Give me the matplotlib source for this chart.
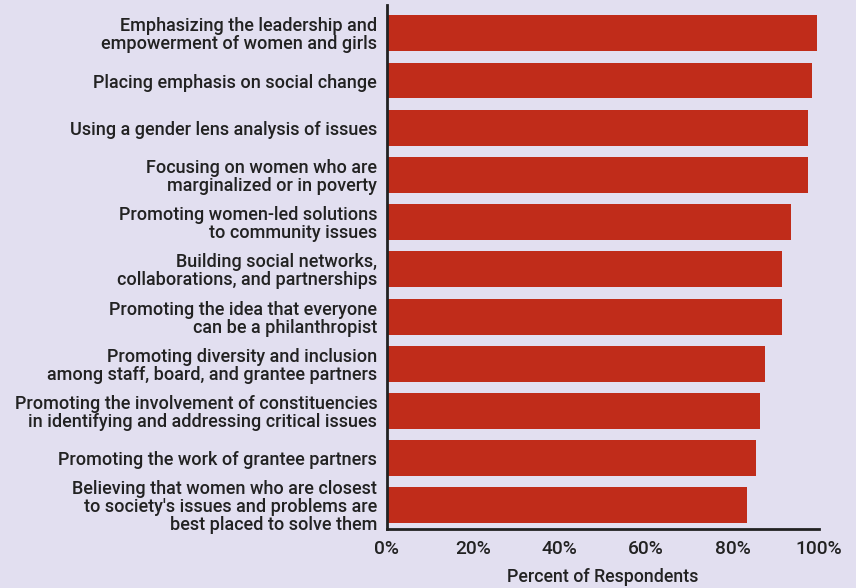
import matplotlib.pyplot as plt
import numpy as np

categories = [
    "Emphasizing the leadership and\nempowerment of women and girls",
    "Placing emphasis on social change",
    "Using a gender lens analysis of issues",
    "Focusing on women who are\nmarginalized or in poverty",
    "Promoting women-led solutions\nto community issues",
    "Building social networks,\ncollaborations, and partnerships",
    "Promoting the idea that everyone\ncan be a philanthropist",
    "Promoting diversity and inclusion\namong staff, board, and grantee partners",
    "Promoting the involvement of constituencies\nin identifying and addressing critical issues",
    "Promoting the work of grantee partners",
    "Believing that women who are closest\nto society's issues and problems are\nbest placed to solve them",
]
values = [99.4, 98.3, 97.3, 97.3, 93.4, 91.3, 91.3, 87.4, 86.2, 85.3, 83.2]
ticks = [0, 20, 40, 60, 80, 100]

bg = "#e2dff0"
bar_color = "#c02c1a"
text_color = "#222222"

plt.rcParams['font.family'] = ['Roboto', 'DejaVu Sans']

fig = plt.figure(figsize=(8.56, 5.88), dpi=100, facecolor=bg)
ax = fig.add_axes([0.452, 0.1003, 0.505, 0.8912])
ax.set_facecolor(bg)

y = np.arange(len(categories))
ax.barh(y, values, height=0.76, color=bar_color)

ax.set_xlim(0, 100)
ax.set_ylim(10.5, -0.6)
ax.set_yticks(y)
ax.set_yticklabels(categories, fontsize=13, fontweight='medium', color=text_color,
                   linespacing=1.0)
ax.set_xticks(ticks)
ax.set_xticklabels([f"{t}%" for t in ticks], fontsize=13.8, fontweight='medium',
                   color=text_color)
ax.tick_params(axis='y', length=0, pad=7)
ax.tick_params(axis='x', length=0, pad=8)
ax.set_xlabel("Percent of Respondents", fontsize=12.8, fontweight='medium',
              color=text_color, labelpad=7)

for s in ['top', 'right']:
    ax.spines[s].set_visible(False)
for s in ['left', 'bottom']:
    ax.spines[s].set_color('#222222')
    ax.spines[s].set_linewidth(2)

fig.savefig("out.png", dpi=100, facecolor=bg)
